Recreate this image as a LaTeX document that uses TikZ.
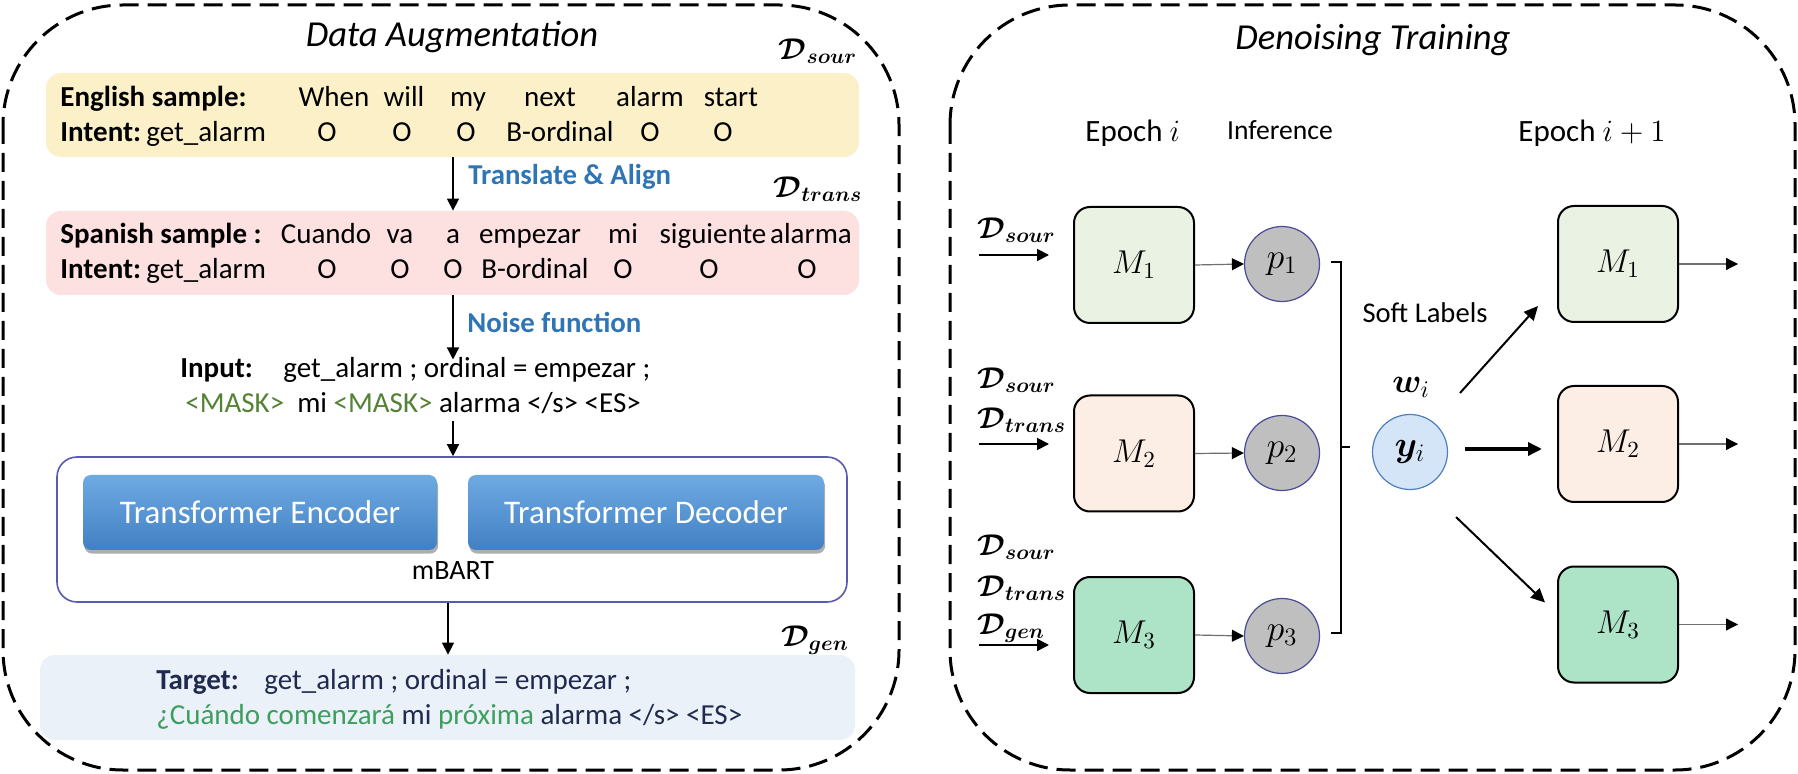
\documentclass[tikz,border=0pt]{standalone}
\usepackage{fix-cm}
\usepackage{amsmath,bm}
\usepackage{fontspec}
\setmainfont{Carlito}
\usetikzlibrary{arrows.meta,shadows,calc}

\definecolor{yel}{HTML}{FCF0C8}
\definecolor{pnk}{HTML}{FDE0E0}
\definecolor{tgt}{HTML}{EAF1F8}
\definecolor{blu}{HTML}{2E75B6}
\definecolor{mgreen}{HTML}{548235}
\definecolor{tgreen}{HTML}{3E9E5E}
\definecolor{navy}{HTML}{1F2A4E}
\definecolor{mbd}{HTML}{5A5AB4}
\definecolor{btop}{HTML}{6EAAE2}
\definecolor{bbot}{HTML}{4280C4}
\definecolor{mone}{HTML}{EAF3E3}
\definecolor{mtwo}{HTML}{FCEEE5}
\definecolor{mthree}{HTML}{ADE4C8}
\definecolor{pgray}{HTML}{BFBFBF}
\definecolor{pbd}{HTML}{4A4A9A}
\definecolor{yfill}{HTML}{D3E5F6}
\definecolor{ybd}{HTML}{4F7FBF}
\definecolor{lgray}{HTML}{6F6F6F}

\tikzset{
  panel/.style={draw, line width=1.5pt, dash pattern=on 9.5pt off 4.5pt, rounded corners=60pt},
  tbox/.style={rounded corners=7.5pt, inner sep=0pt, minimum width=406.5pt},
  wd/.style={anchor=base, inner sep=0pt, font=\fontsize{14.5}{17}\selectfont},
  wl/.style={wd, anchor=base west},
  bl/.style={wl, font=\fontsize{14.5}{17}\selectfont\bfseries},
  lbl/.style={anchor=base west, inner sep=0pt, text=blu, font=\fontsize{14.4}{17}\selectfont\bfseries},
  dlab/.style={inner sep=0pt, font=\fontsize{15}{17}\selectfont},
  btn/.style={rounded corners=4pt, top color=btop, bottom color=bbot, minimum height=37.5pt,
    text=white, font=\fontsize{16.5}{19}\selectfont, inner sep=0pt,
    drop shadow={shadow xshift=0.6pt, shadow yshift=-1.8pt, opacity=0.45, fill=black!70}},
  arr/.style={-{Triangle[length=6pt,width=6pt]}, line width=0.7pt},
  garr/.style={-{Triangle[length=6pt,width=6pt,color=black]}, draw=lgray, line width=0.6pt},
  tarr/.style={-{Triangle[length=7pt,width=6.5pt]}, line width=1pt},
  mbox/.style={draw, line width=1pt, rounded corners=8pt, minimum width=60pt, minimum height=58pt,
    inner sep=0pt, font=\fontsize{16.5}{19}\selectfont},
  circ/.style={circle, draw=pbd, fill=pgray, minimum size=37.5pt, inner sep=0pt, line width=0.6pt,
    font=\fontsize{18}{20}\selectfont},
  brk/.style={line width=1pt},
  hd/.style={anchor=base, inner sep=0pt, font=\fontsize{15.5}{18}\selectfont},
  ttl/.style={anchor=base, inner sep=0pt, font=\fontsize{18.3}{21}\selectfont\itshape},
}

\begin{document}
\begin{tikzpicture}[x=0.5pt, y=-0.5pt]
\useasboundingbox (0,0) rectangle (1798,774);

% ================= Left panel =================
\draw[panel] (3,5) rectangle (899,770);
\node[ttl] (t1) at (452,47) {Data Augmentation};

% English sample
\node[tbox, fill=yel, minimum height=42pt] (eng) at (452.5,115) {};
\node[bl] (engl) at (60,107) {English sample:};
\foreach \x/\t [count=\i] in {334/When,404/will,468/my,550/next,650/alarm,731/start}
  \node[wd, name=ew\i] at (\x,107) {\t};
\node[bl] (int1) at (60,142) {Intent:};
\node[wl] (ga1) at (146,142) {get\_alarm};
\foreach \x/\t [count=\i] in {327/O,402/O,466/O,560/B-ordinal,650/O,723/O}
  \node[wd, name=et\i] at (\x,142) {\t};
\node[dlab] (dsour) at (818,51) {$\boldsymbol{\mathcal{D}_{sour}}$};

% Spanish sample
\node[tbox, fill=pnk, minimum height=42pt] (spa) at (452.5,253) {};
\node[bl] (spal) at (60,244) {Spanish sample :};
\foreach \x/\t [count=\i] in {326/Cuando,400/va,453/a,530/empezar,623/mi,713/siguiente,811/alarma}
  \node[wd, name=sw\i] at (\x,244) {\t};
\node[bl] (int2) at (60,279) {Intent:};
\node[wl] (ga2) at (146,279) {get\_alarm};
\foreach \x/\t [count=\i] in {327/O,400/O,453/O,535/B-ordinal,623/O,709/O,807/O}
  \node[wd, name=st\i] at (\x,279) {\t};
\node[dlab] (dtrans) at (818,189) {$\boldsymbol{\mathcal{D}_{trans}}$};

\coordinate (ax) at (453,0);
\coordinate (bx) at (448,0);
\draw[arr] (eng.south -| ax) -- (spa.north -| ax);
\node[lbl] (ta) at (468,185) {Translate \& Align};

% Input
\node[bl] (inpa) at (180,378) {Input:};
\node[wl] (inpb) at (283,378) {get\_alarm ; ordinal = empezar ;};
\node[wl] (inpc) at (185,413)
  {\textcolor{mgreen}{<MASK>}\hspace{0.45em}mi \textcolor{mgreen}{<MASK>} alarma </s> <ES>};
\draw[arr] (spa.south -| ax) -- ([yshift=-1pt]inpb.north -| ax);
\node[lbl] (nf) at (467,333) {Noise function};

% mBART
\node[draw=mbd, line width=0.8pt, fill=white, rounded corners=10pt, minimum width=395pt,
      minimum height=72.5pt, inner sep=0pt] (mbart) at (452,529.5) {};
\node[btn, minimum width=177pt] (enc) at (260,512.5) {Transformer Encoder};
\node[btn, minimum width=178pt] (dec) at (646,512.5) {Transformer Decoder};
\node[anchor=base, inner sep=0pt, font=\fontsize{14}{16}\selectfont] (mb) at (453,580) {mBART};
\draw[arr] ([yshift=-3pt]inpc.south -| ax) -- (mbart.north -| ax);

% Target
\node[tbox, fill=tgt, minimum width=407.5pt, minimum height=42.5pt] (tgt) at (447.5,697.5) {};
\draw[arr] (mbart.south -| bx) -- (tgt.north -| bx);
\node[dlab] (dgen) at (815,640) {$\boldsymbol{\mathcal{D}_{gen}}$};
\node[bl, text=navy] (tga) at (156,689) {Target:};
\node[wl, text=navy] (tgb) at (264,689) {get\_alarm ; ordinal = empezar ;};
\node[wl, text=navy] (tgc) at (156,724)
  {\textcolor{tgreen}{¿Cuándo comenzará} mi \textcolor{tgreen}{próxima} alarma </s> <ES>};

% ================= Right panel =================
\draw[panel] (950,5) rectangle (1795,770);
\node[ttl] (t2) at (1373,50) {Denoising Training};
\node[hd, anchor=base west] (ep1) at (1085,142) {Epoch $i$};
\node[hd, font=\fontsize{13.8}{16}\selectfont] (inf) at (1280,140) {Inference};
\node[hd, anchor=base west] (ep2) at (1518,142) {Epoch $i+1$};

% models epoch i
\node[mbox, fill=mone] (m1) at (1134,265) {$M_1$};
\node[mbox, fill=mtwo] (m2) at (1134,453.5) {$M_2$};
\node[mbox, fill=mthree] (m3) at (1134,635) {$M_3$};

\node[circ] (p1) at (1282,264) {$p_1$};
\node[circ] (p2) at (1282,453) {$p_2$};
\node[circ] (p3) at (1282,636) {$p_3$};
\draw[garr] (m1.east) -- (p1.west);
\draw[garr] (m2.east) -- (p2.west);
\draw[garr] (m3.east) -- (p3.west);

% inputs
\node[dlab, anchor=west] (r1a) at (977,230) {$\boldsymbol{\mathcal{D}_{sour}}$};
\node[dlab, anchor=west] (r2a) at (977,380) {$\boldsymbol{\mathcal{D}_{sour}}$};
\node[dlab, anchor=west] (r2b) at (977,420) {$\boldsymbol{\mathcal{D}_{trans}}$};
\node[dlab, anchor=west] (r3a) at (977,547) {$\boldsymbol{\mathcal{D}_{sour}}$};
\node[dlab, anchor=west] (r3b) at (977,588) {$\boldsymbol{\mathcal{D}_{trans}}$};
\node[dlab, anchor=west] (r3c) at (977,628) {$\boldsymbol{\mathcal{D}_{gen}}$};
\coordinate (i1) at (979,255); \coordinate (j1) at (1049,255);
\coordinate (i2) at (979,444); \coordinate (j2) at (1049,444);
\coordinate (i3) at (979,645); \coordinate (j3) at (1049,645);
\draw[arr, line width=0.9pt] (i1) -- (j1);
\draw[arr, line width=0.9pt] (i2) -- (j2);
\draw[arr, line width=0.9pt] (i3) -- (j3);

% bracket
\draw[brk] ($(p1.east)+(11,-2)$) -- ($(p1.east)+(21,-2)$) -- ($(p3.east)+(21,-3)$) -- ($(p3.east)+(11,-3)$);
\draw[brk] ($(p2.east)+(20,-6)$) -- ++(10,0);
\node[anchor=base, inner sep=0pt, font=\fontsize{14.3}{17}\selectfont] (sl) at (1425,323) {Soft Labels};

% soft labels
\node[circ, fill=yfill, draw=ybd] (yi) at (1410,452) {$\bm{y}_i$};
\node[inner sep=0pt, font=\fontsize{17}{19}\selectfont] (wi) at (1411,387) {$\bm{w}_i$};

% models epoch i+1
\node[mbox, fill=mone] (n1) at (1618,264) {$M_1$};
\node[mbox, fill=mtwo] (n2) at (1618,444) {$M_2$};
\node[mbox, fill=mthree] (n3) at (1618,624.5) {$M_3$};

\draw[tarr] ($(yi.center)+(50,-59)$) -- ($(n1.south west)+(-19,-17)$);
\draw[tarr, line width=1.7pt] ($(yi.east)+(17,-3)$) -- ($(n2.west)+(-15,5)$);
\draw[tarr] ($(yi.center)+(46,65)$) -- ($(n3.west)+(-12,-22)$);

\coordinate (o1) at (1738,0);
\draw[garr] (n1.east) -- (n1.east -| o1);
\draw[garr] (n2.east) -- (n2.east -| o1);
\draw[garr] (n3.east) -- (n3.east -| o1);
\end{tikzpicture}
\end{document}
